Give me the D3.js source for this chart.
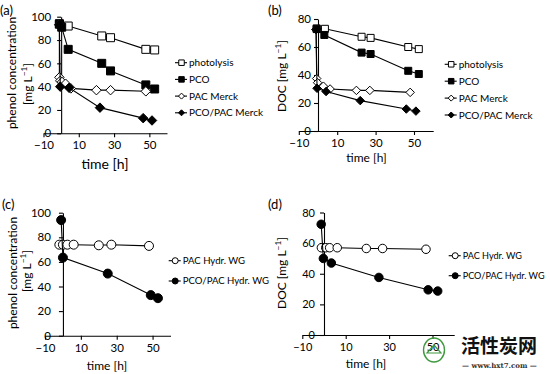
<!DOCTYPE html>
<html>
<head>
<meta charset="utf-8">
<script src="https://cdn.jsdelivr.net/npm/d3@7"></script>
<style>
  body { margin: 0; background: #fff; }
  svg text { font-family: Lato, "Open Sans", sans-serif; fill: #000; }
</style>
</head>
<body>
<div id="chart"></div>
<script>
// values: [time in h, value]
// (a) phenol concentration [mg/L]
var a_photolysis   = [[-1, 93.5], [4, 92], [23, 83.5], [28, 82], [48, 72], [53, 71.5]];
var a_pco          = [[-1, 94], [0.3, 91], [4, 72], [23, 60], [28, 53.5], [48, 41.5], [53, 38]];
var a_pacMerck     = [[-1, 93], [-1, 48], [-0.5, 45], [0.5, 44], [2.5, 42.5], [5.5, 38.5], [20, 37], [28, 37], [48, 36]];
var a_pcoPacMerck  = [[-1, 93], [-0.5, 40], [4.5, 39], [22, 22], [46.5, 13], [51.5, 11]];

// (b) DOC [mg/L]
var b_photolysis   = [[-0.7, 73.3], [3.6, 73], [22.7, 67.3], [27.4, 66.5], [47, 60], [52.5, 58.5]];
var b_pco          = [[-0.7, 72.8], [3.3, 68.6], [22.7, 56], [27.4, 55], [47, 43], [52.5, 40.7]];
var b_pacMerck     = [[-1, 72.5], [-0.7, 37.5], [-0.2, 34.5], [2.8, 32], [6.3, 30], [20, 29], [27, 29], [48, 27.6]];
var b_pcoPacMerck  = [[-1, 72.5], [-0.5, 30.5], [4.2, 28.2], [22, 21.7], [46, 15.7], [51, 14.2]];

// (c) phenol concentration [mg/L]
var c_pacHydr      = [[-2, 74], [0, 74], [2.5, 74], [6, 74], [20, 73.5], [27, 74], [48, 73]];
var c_pcoPacHydr   = [[-1, 94], [0, 63.5], [25, 50.5], [49, 33], [53, 30.5]];

// (d) DOC [mg/L]
var d_pacHydr      = [[-1.2, 57], [0.8, 57], [2.6, 57], [6.1, 57], [19.5, 56.5], [27, 56.5], [47, 56]];
var d_pcoPacHydr   = [[-1.3, 72.3], [-0.3, 50], [3.4, 47], [25.3, 37.6], [48, 29.5], [52.4, 28.7]];

// axis ticks
var xTicks = [-10, 10, 30, 50];
var yTicksPhenol = [0, 20, 40, 60, 80, 100];
var yTicksDOC = [0, 20, 40, 60, 80];

var svg = d3.select("#chart").append("svg")
    .attr("width", 550)
    .attr("height", 374);

// panel layouts
var panels = [
  {
    tag: "(a)", tagX: 0, tagY: 15,
    xr: [43.5, 167], yr: [133.3, 16.7], ymax: 100, yTicks: yTicksPhenol,
    tickFont: 11.5, yPad: 6, ms: 8,
    ytitle: ["phenol concentration", "[mg L"], ytX: [11.7, 27.5], ytY: [73, 84], ytFont: 12,
    xtX: 105, xtY: 169, xtFont: 14,
    legX: 188, legY: 62.7, legStep: 16.7, legFont: 10,
    series: [
      {name: "photolysis", data: a_photolysis, shape: "square", fill: "#fff"},
      {name: "PCO", data: a_pco, shape: "square", fill: "#000"},
      {name: "PAC Merck", data: a_pacMerck, shape: "diamond", fill: "#fff"},
      {name: "PCO/PAC Merck", data: a_pcoPacMerck, shape: "diamond", fill: "#000"}
    ]
  },
  {
    tag: "(b)", tagX: 268, tagY: 15,
    xr: [298.8, 433.2], yr: [131, 19], ymax: 80, yTicks: yTicksDOC,
    tickFont: 11.5, yPad: 3, ms: 7,
    ytitle: ["DOC [mg L"], ytX: [281.7], ytY: [76], ytFont: 12,
    xtX: 366.5, xtY: 162, xtFont: 12,
    legX: 457.7, legY: 64.3, legStep: 16.9, legFont: 10,
    series: [
      {name: "photolysis", data: b_photolysis, shape: "square", fill: "#fff"},
      {name: "PCO", data: b_pco, shape: "square", fill: "#000"},
      {name: "PAC Merck", data: b_pacMerck, shape: "diamond", fill: "#fff"},
      {name: "PCO/PAC Merck", data: b_pcoPacMerck, shape: "diamond", fill: "#000"}
    ]
  },
  {
    tag: "(c)", tagX: 2, tagY: 209,
    xr: [45, 170.5], yr: [335.7, 212.7], ymax: 100, yTicks: yTicksPhenol,
    tickFont: 11.5, yPad: 8, ms: 9,
    ytitle: ["phenol concentration", "[mg L"], ytX: [12.3, 26.7], ytY: [273, 271], ytFont: 12,
    xtX: 107, xtY: 370, xtFont: 12,
    legX: 181.7, legY: 260.7, legStep: 20.3, legFont: 9.6,
    series: [
      {name: "PAC Hydr. WG", data: c_pacHydr, shape: "circle", fill: "#fff"},
      {name: "PCO/PAC Hydr. WG", data: c_pcoPacHydr, shape: "circle", fill: "#000"}
    ]
  },
  {
    tag: "(d)", tagX: 268, tagY: 209,
    xr: [302.3, 454.2], yr: [335, 212.5], ymax: 80, yTicks: yTicksDOC,
    tickFont: 11, yPad: 5, ms: 8.5,
    ytitle: ["DOC [mg L"], ytX: [281.7], ytY: [273], ytFont: 12,
    xtX: 366, xtY: 368, xtFont: 12,
    legX: 461.7, legY: 255.7, legStep: 20, legFont: 9.1,
    series: [
      {name: "PAC Hydr. WG", data: d_pacHydr, shape: "circle", fill: "#fff"},
      {name: "PCO/PAC Hydr. WG", data: d_pcoPacHydr, shape: "circle", fill: "#000"}
    ]
  }
];

// marker path for a shape of overall size s
function markerPath(shape, s) {
  if (shape === "square") {
    return d3.symbol().type(d3.symbolSquare).size(s * s)();
  } else if (shape === "diamond") {
    var h = s / 2;
    return "M0," + (-h) + "L" + h + ",0L0," + h + "L" + (-h) + ",0Z";
  }
  return d3.symbol().type(d3.symbolCircle).size(Math.PI * s * s / 4)();
}

// y title with superscript -1
function yTitle(g, txt, cx, cy, fs, sup) {
  var t = g.append("text")
      .attr("transform", "translate(" + cx + "," + cy + ") rotate(-90)")
      .attr("dy", "0.35em")
      .attr("text-anchor", "middle")
      .style("font-size", fs + "px");
  t.append("tspan").text(txt);
  if (sup) {
    t.append("tspan").attr("dy", -fs * 0.38).style("font-size", (fs * 0.7) + "px").text("\u22121");
    t.append("tspan").attr("dy", fs * 0.38).text("]");
  }
}

panels.forEach(function(p) {
  var x = d3.scaleLinear().domain([-10, 60]).range(p.xr);
  var y = d3.scaleLinear().domain([0, p.ymax]).range(p.yr);
  var g = svg.append("g");

  // Add the X Axis (crossing at y = 0)
  g.append("g")
      .attr("transform", "translate(0," + y(0) + ")")
      .call(d3.axisBottom(x).tickValues(xTicks).tickSize(4).tickSizeOuter(0).tickPadding(4).tickFormat(d3.format("d")))
      .attr("font-family", "Lato, sans-serif")
      .attr("font-size", p.tickFont);

  // Add the Y Axis (crossing at x = 0)
  g.append("g")
      .attr("transform", "translate(" + x(0) + ",0)")
      .call(d3.axisLeft(y).tickValues(p.yTicks).tickSize(4).tickSizeOuter(0).tickPadding(p.yPad))
      .attr("font-family", "Lato, sans-serif")
      .attr("font-size", p.tickFont);

  g.selectAll(".domain, .tick line").attr("stroke", "#000").attr("stroke-width", 1.1);
  g.selectAll(".tick text").attr("fill", "#000");

  // series: line first, then markers
  var line = d3.line().x(function(d) { return x(d[0]); }).y(function(d) { return y(d[1]); });
  p.series.forEach(function(s) {
    g.append("path")
        .datum(s.data)
        .attr("fill", "none")
        .attr("stroke", "#000")
        .attr("stroke-width", 1.1)
        .attr("d", line);
    g.append("g").selectAll("path")
        .data(s.data)
        .enter().append("path")
        .attr("transform", function(d) { return "translate(" + x(d[0]) + "," + y(d[1]) + ")"; })
        .attr("d", markerPath(s.shape, s.shape === "diamond" ? p.ms + 1.5 : p.ms))
        .attr("fill", s.fill)
        .attr("stroke", "#000")
        .attr("stroke-width", 1);
  });

  // legend
  p.series.forEach(function(s, i) {
    var ly = p.legY + i * p.legStep;
    g.append("line")
        .attr("x1", p.legX - 13).attr("x2", p.legX - 1)
        .attr("y1", ly).attr("y2", ly)
        .attr("stroke", "#000").attr("stroke-width", 1.1);
    var lm = s.shape === "circle" ? 6 : (s.shape === "diamond" ? 6 : 5.5);
    g.append("path")
        .attr("transform", "translate(" + (p.legX - 6.5) + "," + ly + ")")
        .attr("d", markerPath(s.shape, lm))
        .attr("fill", s.fill)
        .attr("stroke", "#000")
        .attr("stroke-width", 1);
    g.append("text")
        .attr("x", p.legX + 1)
        .attr("y", ly)
        .attr("dy", "0.35em")
        .style("font-size", p.legFont + "px")
        .text(s.name);
  });

  // axis titles
  if (p.ytitle.length === 2) {
    yTitle(g, p.ytitle[0], p.ytX[0], p.ytY[0], p.ytFont, false);
    yTitle(g, p.ytitle[1], p.ytX[1], p.ytY[1], p.ytFont, true);
  } else {
    yTitle(g, p.ytitle[0], p.ytX[0], p.ytY[0], p.ytFont, true);
  }
  g.append("text")
      .attr("x", p.xtX)
      .attr("y", p.xtY)
      .attr("text-anchor", "middle")
      .style("font-size", p.xtFont + "px")
      .text("time [h]");

  // panel tag
  g.append("text")
      .attr("x", p.tagX)
      .attr("y", p.tagY)
      .style("font-size", "13px")
      .text(p.tag);
});

// watermark in the lower right corner
var wm = svg.append("g");
wm.append("ellipse")
    .attr("cx", 434).attr("cy", 350).attr("rx", 10.5).attr("ry", 12)
    .attr("fill", "none").attr("stroke", "#3f9a3f").attr("stroke-width", 1.4);
wm.append("path")
    .attr("d", "M427,353 L434,345 L441,353 Z")
    .attr("fill", "none").attr("stroke", "#3f9a3f").attr("stroke-width", 1.2);
wm.append("text")
    .attr("x", 461).attr("y", 353)
    .style("font-family", "'Noto Sans CJK SC', sans-serif")
    .style("font-size", "19px")
    .style("font-weight", "bold")
    .style("fill", "#111")
    .text("活性炭网");
wm.append("text")
    .attr("x", 462).attr("y", 368)
    .style("font-family", "'DejaVu Serif', serif")
    .style("font-size", "7px")
    .style("font-weight", "bold")
    .style("fill", "#333")
    .text("— www.hxt7.com —");
</script>
</body>
</html>
